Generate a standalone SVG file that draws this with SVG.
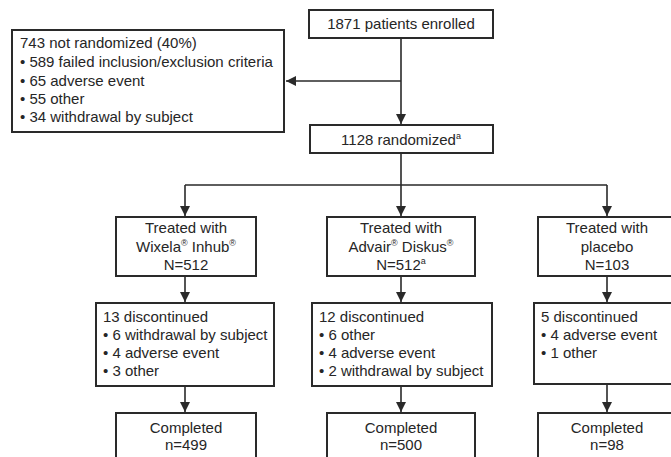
<svg xmlns="http://www.w3.org/2000/svg" width="671" height="457" viewBox="0 0 671 457">
<defs>
<marker id="ah" viewBox="0 0 10 10" refX="10" refY="5" markerWidth="10" markerHeight="10" markerUnits="userSpaceOnUse" orient="auto">
<path d="M0,0 L10,5 L0,10 Z" fill="#2a2a2a"/>
</marker>
<style>
.box{fill:#fff;stroke:#2a2a2a;stroke-width:2}
.ln{fill:none;stroke:#2a2a2a;stroke-width:1.6}
text{font-family:"Liberation Sans",Arial,Helvetica,sans-serif;font-size:15px;fill:#262626}
.c{text-anchor:middle}
.sup{font-size:9px}
</style>
</defs>
<rect width="671" height="457" fill="#fff"/>
<g id="connectors">
<path class="ln" d="M401,38 V124" marker-end="url(#ah)"/>
<path class="ln" d="M401,81 H286" marker-end="url(#ah)"/>
<path class="ln" d="M401,153 V185 M185,185 H607"/>
<path class="ln" d="M185,185 V216" marker-end="url(#ah)"/>
<path class="ln" d="M401,185 V216" marker-end="url(#ah)"/>
<path class="ln" d="M607,185 V216" marker-end="url(#ah)"/>
<path class="ln" d="M185,276 V302" marker-end="url(#ah)"/>
<path class="ln" d="M401,276 V302" marker-end="url(#ah)"/>
<path class="ln" d="M607,276 V302" marker-end="url(#ah)"/>
<path class="ln" d="M185,386 V412" marker-end="url(#ah)"/>
<path class="ln" d="M401,386 V412" marker-end="url(#ah)"/>
<path class="ln" d="M607,384 V412" marker-end="url(#ah)"/>
</g>
<g id="enrolled">
<rect class="box" x="309" y="10" width="184" height="28"/>
<text class="c" x="401" y="29">1871 patients enrolled</text>
</g>
<g id="not-randomized">
<rect class="box" x="12" y="30" width="272" height="102"/>
<text x="20" y="48">743 not randomized (40%)</text>
<text x="20" y="67">• 589 failed inclusion/exclusion criteria</text>
<text x="20" y="86">• 65 adverse event</text>
<text x="20" y="104">• 55 other</text>
<text x="20" y="122">• 34 withdrawal by subject</text>
</g>
<g id="randomized">
<rect class="box" x="310" y="125" width="183" height="28"/>
<text class="c" x="401" y="145">1128 randomized<tspan class="sup" dy="-6">a</tspan></text>
</g>
<g id="wixela">
<rect class="box" x="116" y="217" width="140" height="59"/>
<text class="c" x="186" y="233">Treated with</text>
<text class="c" x="186" y="252">Wixela<tspan class="sup" dy="-6">®</tspan><tspan dy="6"> Inhub</tspan><tspan class="sup" dy="-6">®</tspan></text>
<text class="c" x="186" y="270">N=512</text>
</g>
<g id="advair">
<rect class="box" x="327" y="217" width="148" height="59"/>
<text class="c" x="401" y="233">Treated with</text>
<text class="c" x="401" y="252">Advair<tspan class="sup" dy="-6">®</tspan><tspan dy="6"> Diskus</tspan><tspan class="sup" dy="-6">®</tspan></text>
<text class="c" x="401" y="270">N=512<tspan class="sup" dy="-6">a</tspan></text>
</g>
<g id="placebo">
<rect class="box" x="538" y="217" width="138" height="59"/>
<text class="c" x="607" y="233">Treated with</text>
<text class="c" x="607" y="252">placebo</text>
<text class="c" x="607" y="270">N=103</text>
</g>
<g id="disc-wixela">
<rect class="box" x="96" y="303" width="178" height="83"/>
<text x="103" y="322">13 discontinued</text>
<text x="103" y="340">• 6 withdrawal by subject</text>
<text x="103" y="358">• 4 adverse event</text>
<text x="103" y="376">• 3 other</text>
</g>
<g id="disc-advair">
<rect class="box" x="312" y="303" width="180" height="83"/>
<text x="319" y="322">12 discontinued</text>
<text x="319" y="340">• 6 other</text>
<text x="319" y="358">• 4 adverse event</text>
<text x="319" y="376">• 2 withdrawal by subject</text>
</g>
<g id="disc-placebo">
<rect class="box" x="534" y="303" width="180" height="81"/>
<text x="541" y="322">5 discontinued</text>
<text x="541" y="340">• 4 adverse event</text>
<text x="541" y="358">• 1 other</text>
</g>
<g id="comp-wixela">
<rect class="box" x="116" y="413" width="140" height="60"/>
<text class="c" x="186" y="433">Completed</text>
<text class="c" x="186" y="450">n=499</text>
</g>
<g id="comp-advair">
<rect class="box" x="327" y="413" width="148" height="60"/>
<text class="c" x="401" y="433">Completed</text>
<text class="c" x="401" y="450">n=500</text>
</g>
<g id="comp-placebo">
<rect class="box" x="538" y="413" width="138" height="60"/>
<text class="c" x="607" y="433">Completed</text>
<text class="c" x="607" y="450">n=98</text>
</g>
</svg>
